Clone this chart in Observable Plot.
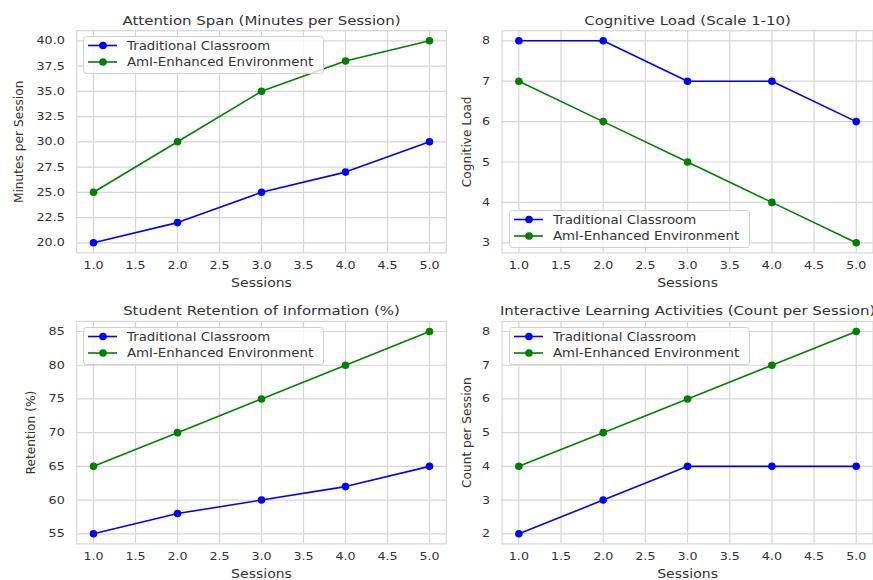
<!DOCTYPE html>
<html>
<head>
<meta charset="utf-8">
<script src="https://cdn.jsdelivr.net/npm/d3@7"></script>
<script src="https://cdn.jsdelivr.net/npm/@observablehq/plot@0.6"></script>
<style>
  html, body { margin: 0; padding: 0; background: #fff; }
  #fig { position: relative; width: 873px; height: 580px; overflow: hidden; background: #fff; }
  #fig svg { position: absolute; }
</style>
</head>
<body>
<div id="fig"></div>
<script>
// ---------------- data ----------------
const sessions = [1, 2, 3, 4, 5];
const seriesNames = ["Traditional Classroom", "AmI-Enhanced Environment"];
const seriesColors = ["#0000ff", "#008000"];
const xTicks = [1.0, 1.5, 2.0, 2.5, 3.0, 3.5, 4.0, 4.5, 5.0];

const attentionTrad = [20, 22, 25, 27, 30];
const attentionAmI = [25, 30, 35, 38, 40];
const attentionTicks = [20.0, 22.5, 25.0, 27.5, 30.0, 32.5, 35.0, 37.5, 40.0];

const cognitiveTrad = [8, 8, 7, 7, 6];
const cognitiveAmI = [7, 6, 5, 4, 3];
const cognitiveTicks = [3, 4, 5, 6, 7, 8];

const retentionTrad = [55, 58, 60, 62, 65];
const retentionAmI = [65, 70, 75, 80, 85];
const retentionTicks = [55, 60, 65, 70, 75, 80, 85];

const interactiveTrad = [2, 3, 4, 4, 4];
const interactiveAmI = [4, 5, 6, 7, 8];
const interactiveTicks = [2, 3, 4, 5, 6, 7, 8];

const titles = [
  "Attention Span (Minutes per Session)",
  "Cognitive Load (Scale 1-10)",
  "Student Retention of Information (%)",
  "Interactive Learning Activities (Count per Session)"
];
const yLabels = ["Minutes per Session", "Cognitive Load", "Retention (%)", "Count per Session"];
const xLabel = "Sessions";

// ---------------- layout ----------------
const STRETCH = 1.15;
const FONT = "DejaVu Sans";
const TEXT = "#333333";
const GRID = "#d6d6d6";

const panels = [
  {trad: attentionTrad, ami: attentionAmI, ticks: attentionTicks, fmt: ".1f",
   left: 0, top: 0, width: 450, ml: 76.2, mr: 4.2, mt: 30.2, mb: 37.6, ylDx: -57.4, titleDy: -10.2,
   legend: {x: 83, y: 36}},
  {trad: cognitiveTrad, ami: cognitiveAmI, ticks: cognitiveTicks, fmt: "d",
   left: 440, top: 0, width: 433, ml: 61.5, mr: 0.4, mt: 30.2, mb: 37.6, ylDx: -35, titleDy: -10.2,
   legend: {x: 509, y: 210}},
  {trad: retentionTrad, ami: retentionAmI, ticks: retentionTicks, fmt: "d",
   left: 0, top: 290, width: 450, ml: 76.2, mr: 4.2, mt: 30.9, mb: 36.6, ylDx: -45.7, titleDy: -10.9,
   legend: {x: 83, y: 327}},
  {trad: interactiveTrad, ami: interactiveAmI, ticks: interactiveTicks, fmt: "d",
   left: 440, top: 290, width: 433, ml: 61.5, mr: 0.4, mt: 30.9, mb: 36.6, ylDx: -35, titleDy: -10.9,
   legend: {x: 509, y: 327}}
];

const fig = document.getElementById("fig");

function stretchTexts(svg, skip) {
  d3.select(svg).selectAll("text").each(function () {
    if (skip && skip(this)) return;
    const L = this.getComputedTextLength();
    if (L > 0) {
      this.setAttribute("textLength", (L * STRETCH).toFixed(2));
      this.setAttribute("lengthAdjust", "spacingAndGlyphs");
    }
  });
}

panels.forEach((p, i) => {
  const rows = [];
  sessions.forEach((s, j) => {
    rows.push({session: s, value: p.trad[j], series: seriesNames[0]});
  });
  sessions.forEach((s, j) => {
    rows.push({session: s, value: p.ami[j], series: seriesNames[1]});
  });
  const all = p.trad.concat(p.ami);
  const lo = d3.min(all), hi = d3.max(all), pad = (hi - lo) * 0.05;
  const xPad = (d3.max(sessions) - d3.min(sessions)) * 0.05;

  const svg = Plot.plot({
    width: p.width,
    height: 290,
    marginLeft: p.ml, marginRight: p.mr, marginTop: p.mt, marginBottom: p.mb,
    style: {fontFamily: FONT, fontSize: "11px", color: TEXT, background: "transparent", overflow: "visible"},
    x: {domain: [d3.min(sessions) - xPad, d3.max(sessions) + xPad]},
    y: {domain: [lo - pad, hi + pad]},
    color: {domain: seriesNames, range: seriesColors},
    marks: [
      Plot.gridX(xTicks, {stroke: GRID, strokeOpacity: 1, strokeWidth: 1.2}),
      Plot.gridY(p.ticks, {stroke: GRID, strokeOpacity: 1, strokeWidth: 1.2}),
      Plot.frame({stroke: GRID, strokeWidth: 1.2}),
      Plot.axisX(xTicks, {tickSize: 0, tickPadding: 8.5, label: null, tickFormat: d3.format(".1f"), fill: TEXT}),
      Plot.axisY(p.ticks, {tickSize: 0, tickPadding: 12, label: null, tickFormat: d3.format(p.fmt), fill: TEXT}),
      Plot.line(rows, {x: "session", y: "value", z: "series", stroke: "series", strokeWidth: 1.6}),
      Plot.dot(rows, {x: "session", y: "value", fill: "series", r: 3.8}),
      Plot.text([titles[i]], {frameAnchor: "top", textAnchor: "middle", lineAnchor: "middle", dy: p.titleDy, fontSize: 13, fill: TEXT}),
      Plot.text([xLabel], {frameAnchor: "bottom", textAnchor: "middle", lineAnchor: "middle", dy: 30.6, fontSize: 12.2, fill: TEXT}),
      Plot.text([yLabels[i]], {frameAnchor: "left", textAnchor: "middle", lineAnchor: "middle", dx: p.ylDx, rotate: -90, fontSize: 12.2, fill: TEXT})
    ]
  });
  svg.style.left = p.left + "px";
  svg.style.top = p.top + "px";
  fig.appendChild(svg);
  stretchTexts(svg, (t) => (t.getAttribute("transform") || "").includes("rotate") || t.textContent === yLabels[i]);
});

// ---------------- legends (overlay) ----------------
const ov = d3.select(fig).append("svg")
  .attr("width", 873).attr("height", 580)
  .style("left", "0px").style("top", "0px")
  .style("pointer-events", "none");

panels.forEach((p) => {
  const g = ov.append("g").attr("transform", `translate(${p.legend.x},${p.legend.y})`);
  g.append("rect")
    .attr("x", 0.5).attr("y", 0.5).attr("width", 240).attr("height", 37)
    .attr("rx", 3).attr("ry", 3)
    .attr("fill", "#ffffff").attr("fill-opacity", 0.8)
    .attr("stroke", "#d0d0d0").attr("stroke-width", 1);
  seriesNames.forEach((name, k) => {
    const cy = 9.5 + k * 16.5;
    g.append("line").attr("x1", 5).attr("x2", 34).attr("y1", cy).attr("y2", cy)
      .attr("stroke", seriesColors[k]).attr("stroke-width", 1.6);
    g.append("circle").attr("cx", 20).attr("cy", cy).attr("r", 3.8).attr("fill", seriesColors[k]);
    g.append("text").attr("x", 44).attr("y", cy).attr("dy", "0.35em")
      .attr("font-family", FONT).attr("font-size", 11.6).attr("fill", TEXT)
      .text(name);
  });
});
stretchTexts(ov.node());
</script>
</body>
</html>
